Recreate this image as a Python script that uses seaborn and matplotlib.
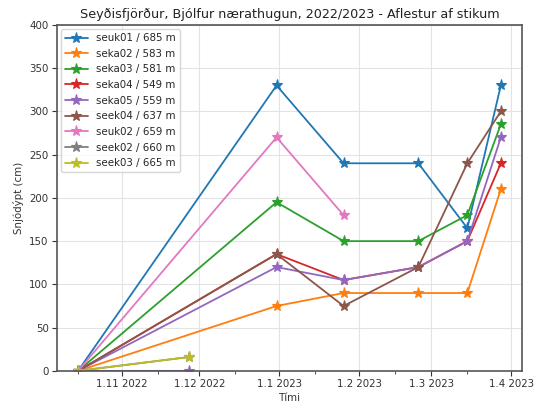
import matplotlib
matplotlib.use("Agg")
import matplotlib.pyplot as plt
import matplotlib.dates as mdates
import numpy as np
import pandas as pd
import seaborn as sns

# Snow-stake readings (cm) per station; dates of each reading
stations = ["seuk01 / 685 m", "seka02 / 583 m", "seka03 / 581 m", "seka04 / 549 m",
            "seka05 / 559 m", "seek04 / 637 m", "seuk02 / 659 m", "seek02 / 660 m",
            "seek03 / 665 m"]

dates_main = ["2022-10-15", "2022-12-31", "2023-01-26", "2023-02-24", "2023-03-15", "2023-03-28"]
dates_seka05 = ["2022-11-27", "2022-10-15", "2022-12-31", "2023-01-26", "2023-02-24",
                "2023-03-15", "2023-03-28"]
dates_seuk02 = ["2022-10-15", "2022-12-31", "2023-01-26"]
dates_seek = ["2022-10-15", "2022-11-27"]

seuk01 = [0, 330, 240, 240, 165, 330]
seka02 = [0, 75, 90, 90, 90, 210]
seka03 = [0, 195, 150, 150, 180, 285]
seka04 = [0, 135, 105, 120, 150, 240]
seka05 = [0, 0, 120, 105, 120, 150, 270]
seek04 = [0, 135, 75, 120, 240, 300]
seuk02 = [0, 270, 180]
seek02 = [0, 16]
seek03 = [0, 16]

series = [
    (dates_main, seuk01), (dates_main, seka02), (dates_main, seka03),
    (dates_main, seka04), (dates_seka05, seka05), (dates_main, seek04),
    (dates_seuk02, seuk02), (dates_seek, seek02), (dates_seek, seek03),
]

sns.set_style("whitegrid", {"axes.edgecolor": "#555555", "grid.color": "#e3e3e3",
                            "xtick.bottom": True, "ytick.left": True,
                            "xtick.color": "#333333", "ytick.color": "#333333"})
plt.rcParams["font.family"] = ["DejaVu Sans"]

fig = plt.figure(figsize=(5.37, 4.08), dpi=100)
ax = fig.add_axes([0.106, 0.091, 0.866, 0.848])

palette = sns.color_palette("tab10", 10)
for i, (name, (d, v)) in enumerate(zip(stations, series)):
    c = palette[i]
    sns.lineplot(x=pd.to_datetime(d), y=v, ax=ax, color=c, label=name, marker="*",
                 markersize=8, markeredgecolor=c, markeredgewidth=0.8, linewidth=1.3,
                 sort=False, estimator=None)

ax.set_ylim(0, 400)
ax.set_yticks(np.arange(0, 401, 50))
ax.xaxis.set_major_locator(mdates.MonthLocator())
ax.xaxis.set_minor_locator(mdates.DayLocator(bymonthday=15))
ax.xaxis.set_major_formatter(mdates.DateFormatter("%-d.%-m %Y"))
ax.tick_params(axis="both", which="major", labelsize=7.4, length=3.5, width=0.8, pad=2.5)
ax.tick_params(axis="x", which="minor", length=2, width=0.6, bottom=True, color="#333333")
ax.grid(True, which="major", color="#e3e3e3", linewidth=0.8)
for s in ax.spines.values():
    s.set_linewidth(1.2)

ax.set_xlabel("Tími", fontsize=7.4, color="#333333", labelpad=3)
ax.set_ylabel("Snjódýpt (cm)", fontsize=7.4, color="#333333", labelpad=4)
ax.set_title("Seyðisfjörður, Bjólfur nærathugun, 2022/2023 - Aflestur af stikum",
             fontsize=9.2, color="#222222", pad=5)

leg = ax.legend(loc="upper left", fontsize=7.4, frameon=True, handlelength=2.2,
                borderaxespad=0.4, labelspacing=0.55)
leg.get_frame().set_edgecolor("#cccccc")

fig.savefig("out.png", dpi=100)
